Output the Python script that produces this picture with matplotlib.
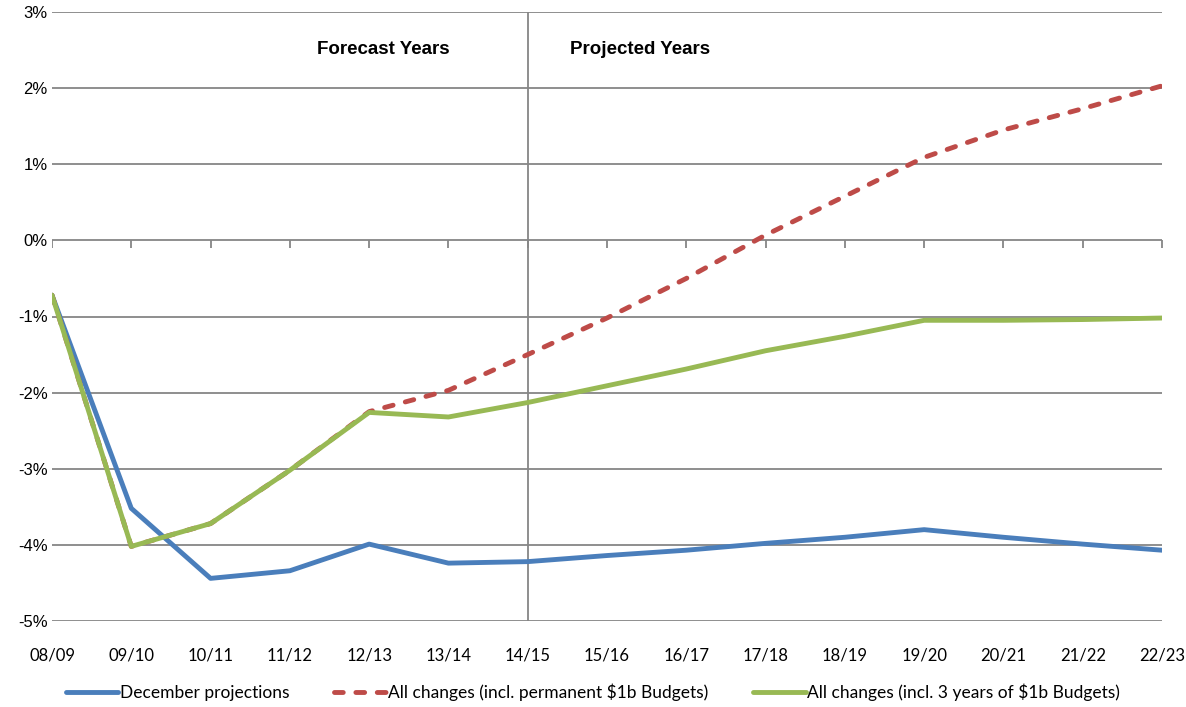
import matplotlib
matplotlib.use("Agg")
import matplotlib.pyplot as plt
from matplotlib.ticker import FuncFormatter
import numpy as np

# Category labels (fiscal years)
years = ['08/09', '09/10', '10/11', '11/12', '12/13', '13/14', '14/15', '15/16',
         '16/17', '17/18', '18/19', '19/20', '20/21', '21/22', '22/23']

# Series values, in percent
december = [-0.72, -3.52, -4.44, -4.34, -3.99, -4.24, -4.22, -4.14,
            -4.07, -3.98, -3.90, -3.80, -3.90, -3.99, -4.07]
permanent = [-0.72, -4.02, -3.72, -3.02, -2.25, -1.97, -1.50, -1.02,
             -0.50, 0.07, 0.58, 1.09, 1.45, 1.73, 2.03]
three_years = [-0.72, -4.02, -3.72, -3.02, -2.26, -2.32, -2.13, -1.91,
               -1.69, -1.45, -1.26, -1.05, -1.05, -1.04, -1.02]

labels = ['December projections',
          'All changes (incl. permanent $1b Budgets)',
          'All changes (incl. 3 years of $1b Budgets)']
split_year = '14/15'

grid_col = '#868686'
blue = '#4a7ebb'
red = '#be4b48'
green = '#98b954'

W, H = 1186, 707
fig = plt.figure(figsize=(W / 100, H / 100), dpi=100)
ax = fig.add_axes([52 / W, 1 - 621 / H, 1110 / W, 609 / H])

x = np.arange(len(years))

# gridlines
for y in range(-5, 4):
    ax.axhline(y, color=grid_col, lw=1.3, zorder=1)
ax.axvline(years.index(split_year), color=grid_col, lw=1.3, zorder=1)
# little ticks on the 0% line
ax.plot(x, np.zeros(len(x)), ls='none', marker=3, markersize=6,
        markeredgewidth=1.3, color=grid_col, zorder=1)

lw = 3.5
ax.plot(x, december, color=blue, lw=lw, solid_capstyle='round', label=labels[0], zorder=3)
ax.plot(x, permanent, color=red, lw=lw, ls=(0, (1.8, 2.6)), dash_capstyle='round',
        label=labels[1], zorder=3)
ax.plot(x, three_years, color=green, lw=lw, solid_capstyle='round', label=labels[2], zorder=4)

ax.set_xlim(0, len(years) - 1)
ax.set_ylim(-5, 3)
ax.set_yticks(range(-5, 4))
ax.yaxis.set_major_formatter(FuncFormatter(lambda v, p: f'{v:.0f}%'))
ax.set_xticks(x)
ax.set_xticklabels(years, fontfamily='Lato', fontsize=12)
for lab in ax.get_yticklabels():
    lab.set_fontfamily('Liberation Sans')
    lab.set_fontsize(12)
ax.tick_params(axis='both', length=0)
ax.tick_params(axis='x', pad=19)
ax.tick_params(axis='y', pad=3)
for s in ax.spines.values():
    s.set_visible(False)

fig.text(383 / W, 1 - 50 / H, 'Forecast Years', ha='center', va='center',
         fontfamily='Liberation Sans', fontweight='bold', fontsize=13.5)
fig.text(640 / W, 1 - 50 / H, 'Projected Years', ha='center', va='center',
         fontfamily='Liberation Sans', fontweight='bold', fontsize=13.5)

leg = fig.legend(loc='center', ncol=3, frameon=False, bbox_to_anchor=(0.5, 1 - 692 / H),
                 handlelength=3.0, handletextpad=0.1, columnspacing=2.6,
                 prop={'family': 'Lato', 'size': 12.5})

fig.savefig('out.png', dpi=100)
